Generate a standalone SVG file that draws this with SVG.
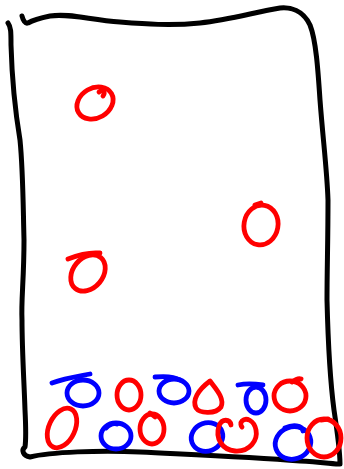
<svg xmlns="http://www.w3.org/2000/svg" width="344" height="469" viewBox="0 0 344 469">
<style>
.k{fill:none;stroke:#000;stroke-width:5;stroke-linecap:round;stroke-linejoin:round}
.r{fill:none;stroke:#ff0000;stroke-width:4.8;stroke-linecap:round;stroke-linejoin:round}
.b{fill:none;stroke:#0000ff;stroke-width:4.8;stroke-linecap:round;stroke-linejoin:round}
</style>
<rect width="344" height="469" fill="#fff"/>
<g id="container">
<path class="k" d="M22,16 C23,20 25,24 28,23 C33,20 40,18 50,16 C70,13 90,20 120,22 C145,24 170,26 200,23 C230,20 255,12 280,8 C290,7 303,10 310,25 C316,40 318,70 320,100 C323,140 327,170 328,200 C328,240 327,270 327,300 C328,340 330,380 334,410 C337,430 340,450 340,464 C335,464 320,462 300,461 C250,457 200,455 140,452 C100,450 50,452 30,457 C23,456 21,450 25,447 C26,440 26,430 25,410 C24,380 22,350 22,320 C21,300 24,280 24,240 C23,200 23,170 20,140 C15,110 12,80 11,45 C11,32 11,27 8,23"/>
</g>
<g id="balls-free">
<g id="red-1"><ellipse class="r" cx="95" cy="103" rx="19" ry="15" transform="rotate(-30 95 103)"/><path class="r" d="M99,92 C102,89 106,92 103,96"/></g>
<g id="red-2"><ellipse class="r" cx="261" cy="225" rx="17" ry="20" transform="rotate(10 261 225)"/><path class="r" d="M255,205 L261,203"/></g>
<g id="red-3"><ellipse class="r" cx="88" cy="273" rx="20" ry="15" transform="rotate(-50 88 273)"/><path class="r" d="M68,259 C78,255 90,252 100,253"/></g>
</g>
<g id="balls-bottom">
<g id="b1"><ellipse class="b" cx="83" cy="393" rx="16" ry="13"/><path class="b" d="M52,383 C65,378 80,376 90,374"/></g>
<g id="r1"><ellipse class="r" cx="129" cy="395" rx="12" ry="15"/></g>
<g id="b2"><ellipse class="b" cx="174" cy="391" rx="15" ry="12"/><path class="b" d="M155,377 C165,376 175,377 180,380"/></g>
<g id="r2"><path class="r" d="M210,381 C198,390 192,400 196,408 C200,414 216,414 221,407 C225,398 215,388 210,381 Z"/></g>
<g id="b3"><ellipse class="b" cx="256" cy="400" rx="10" ry="13"/><path class="b" d="M238,385 C248,383 256,384 263,385"/></g>
<g id="r3"><ellipse class="r" cx="290" cy="396" rx="16" ry="15"/><path class="r" d="M292,382 C296,379 299,378 301,379"/></g>
<g id="r4"><ellipse class="r" cx="62" cy="428" rx="21" ry="13" transform="rotate(-65 62 428)"/></g>
<g id="b4"><ellipse class="b" cx="116" cy="436" rx="15" ry="13"/><path class="b" d="M106,428 C110,424 114,423 117,424"/></g>
<g id="r5"><ellipse class="r" cx="152" cy="429" rx="12" ry="15"/><path class="r" d="M150,413 L155,417"/></g>
<g id="b5"><ellipse class="b" cx="207" cy="437" rx="16" ry="14" transform="rotate(-20 207 437)"/></g>
<g id="r6"><path class="r" d="M231,425 C230,419 222,418 219,426 C215,438 222,450 235,451 C250,452 258,440 256,430 C254,420 246,417 242,421 C240,423 241,426 242,427"/></g>
<g id="b6"><ellipse class="b" cx="293" cy="443" rx="18" ry="16" transform="rotate(-20 293 443)"/><path class="b" d="M285,428 C293,424 302,425 303,431"/></g>
<g id="r7"><ellipse class="r" cx="324" cy="438" rx="17" ry="19"/><path class="r" d="M321,420 L328,419"/></g>
</g>
</svg>
